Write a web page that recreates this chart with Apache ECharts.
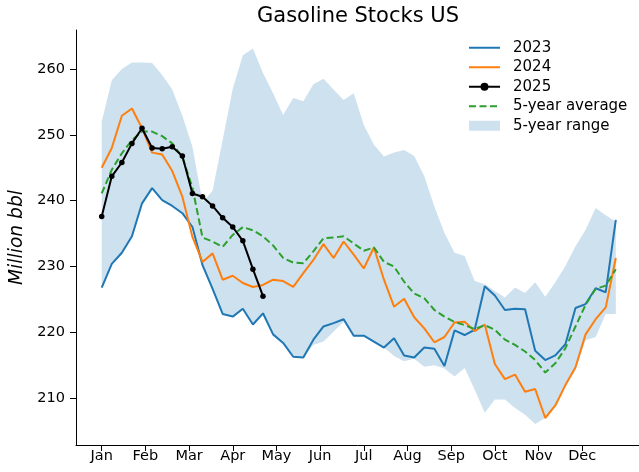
<!DOCTYPE html>
<html><head><meta charset="utf-8">
<script src="https://cdn.jsdelivr.net/npm/echarts@6/dist/echarts.min.js"></script>
<style>html,body{margin:0;padding:0;background:#fff}#c{width:639px;height:472px}</style>
</head><body><div id="c"></div>
<script>
const months = ['Jan','Feb','Mar','Apr','May','Jun','Jul','Aug','Sep','Oct','Nov','Dec'];
const yTicks = [210, 220, 230, 240, 250, 260];

const s2023 = [226.8,230.4,232.1,234.6,239.6,241.9,240.1,239.2,238.1,236.0,
  230.2,226.6,222.8,222.4,223.6,221.2,222.9,219.7,218.4,216.3,
  216.2,218.9,220.9,221.4,222.0,219.5,219.5,218.6,217.7,219.1,
  216.5,216.2,217.7,217.5,214.9,220.3,219.6,220.4,227.0,225.6,
  223.4,223.6,223.5,217.2,215.8,216.5,218.2,223.7,224.3,226.7,
  226.1,237.1];
const s2024 = [245.0,248.0,252.9,254.0,251.0,247.3,247.0,244.5,240.6,234.5,
  230.7,232.0,228.0,228.6,227.5,226.9,227.2,228.0,227.8,226.9,
  229.0,231.0,233.4,231.3,233.8,231.8,229.7,232.9,228.0,223.9,
  225.1,222.3,220.6,218.5,219.3,221.5,221.6,220.2,221.2,215.2,
  212.9,213.6,211.0,211.4,207.0,208.9,212.0,214.7,219.7,222.0,
  223.8,231.3];
const s2025 = [237.6,243.7,245.8,248.7,251.0,248.0,247.9,248.2,246.8,241.1,
  240.6,239.2,237.4,236.0,233.9,229.6,225.5];
const avg5 = [241.1,244.7,247.2,249.2,250.5,250.5,249.8,248.7,246.6,242.0,
  234.4,233.8,233.0,234.8,236.0,235.5,234.6,233.2,231.3,230.6,
  230.5,232.3,234.3,234.4,234.6,233.5,232.4,232.9,230.7,230.0,
  227.7,225.9,225.2,223.4,222.4,221.6,221.1,220.5,221.1,220.4,
  218.9,218.1,217.1,215.8,213.9,215.3,217.6,220.9,224.2,226.6,
  227.1,229.6];
const rangeHi = [252.0,258.3,260.0,261.0,261.0,260.9,259.1,256.9,252.9,248.2,
  239.8,241.5,249.2,257.0,262.1,263.1,259.4,256.3,253.0,255.6,
  255.1,257.7,258.5,256.9,255.3,256.3,251.5,248.5,246.7,247.3,
  247.7,246.8,243.7,239.1,235.1,232.1,231.6,227.8,227.3,226.3,
  225.3,226.8,226.0,227.6,225.4,227.6,230.1,233.1,235.6,238.9,
  237.8,236.8];
const rangeLo = [226.8,230.4,232.1,234.6,239.6,241.9,240.1,239.2,238.1,236.0,
  230.2,226.6,222.8,222.4,223.6,221.2,222.9,219.7,218.4,216.3,
  216.2,218.1,218.6,220.1,221.6,219.4,219.4,218.6,217.7,216.4,
  215.6,216.0,214.8,215.0,214.5,213.3,214.6,211.3,207.8,209.8,
  209.8,208.5,207.5,206.1,207.0,208.8,211.8,214.3,218.8,219.3,
  222.8,222.8];

const WEEKS_PER_MONTH = 52 / 12;
const monthPos = months.map((m, k) => k * WEEKS_PER_MONTH);
const FONT = 'DejaVu Sans';
const bandColor = 'rgba(31,119,180,0.22)';
const toPts = arr => arr.map((v, i) => [i, v]);
const bandData = rangeHi.map((v, i) => [i, rangeLo[i], v]);

function renderBand(params, api) {
  if (params.dataIndex !== 0) return null;
  const pts = [];
  for (let i = 0; i < rangeHi.length; i++) pts.push(api.coord([i, rangeHi[i]]));
  for (let i = rangeLo.length - 1; i >= 0; i--) pts.push(api.coord([i, rangeLo[i]]));
  return {
    type: 'polygon',
    shape: {points: pts},
    style: {fill: bandColor, stroke: 'none'},
    clipPath: {type: 'rect', shape: {
      x: params.coordSys.x, y: params.coordSys.y,
      width: params.coordSys.width, height: params.coordSys.height}}
  };
}

const chart = echarts.init(document.getElementById('c'), null, {renderer: 'canvas'});
chart.setOption({
  animation: false,
  backgroundColor: '#fff',
  title: {
    text: 'Gasoline Stocks US', left: 358, top: 6, textAlign: 'center', padding: 0,
    textStyle: {fontFamily: FONT, fontSize: 21, fontWeight: 'normal', color: '#000'}
  },
  grid: {left: 76, right: 0, top: 30, bottom: 27, outerBoundsMode: 'none'},
  legend: {
    orient: 'vertical', left: 468, top: 38, padding: 0, itemGap: 0,
    itemWidth: 31, itemHeight: 10,
    textStyle: {fontFamily: FONT, fontSize: 15, color: '#000', lineHeight: 19.5, padding: [0, 0, 0, 8]},
    data: [
      {name: '2023', itemStyle: {opacity: 0}},
      {name: '2024', itemStyle: {opacity: 0}},
      {name: '2025'},
      {name: '5-year average', itemStyle: {opacity: 0}},
      {name: '5-year range', icon: 'rect', itemStyle: {color: bandColor, borderWidth: 0}}
    ]
  },
  xAxis: {
    type: 'value', min: -2.55, max: 53.3,
    splitLine: {show: false},
    axisLine: {show: true, onZero: false, lineStyle: {color: '#000', width: 1}},
    axisTick: {show: true, length: 6, customValues: monthPos, lineStyle: {color: '#000', width: 1}},
    axisLabel: {
      customValues: monthPos, margin: 4,
      formatter: v => months[Math.round(v / WEEKS_PER_MONTH)],
      fontFamily: FONT, fontSize: 14.5, color: '#000'
    }
  },
  yAxis: {
    type: 'value', min: 202.9, max: 265.92,
    name: 'Million bbl', nameLocation: 'middle', nameGap: 44,
    nameTextStyle: {fontFamily: FONT, fontSize: 18.7, fontStyle: 'italic', color: '#000'},
    splitLine: {show: false},
    axisLine: {show: true, onZero: false, lineStyle: {color: '#000', width: 1}},
    axisTick: {show: true, length: 6, customValues: yTicks, lineStyle: {color: '#000', width: 1}},
    axisLabel: {customValues: yTicks, margin: 11, fontFamily: FONT, fontSize: 14.5, color: '#000'}
  },
  series: [
    {name: '5-year range', type: 'custom', renderItem: renderBand, data: bandData,
      encode: {x: 0, y: [1, 2]}, itemStyle: {color: bandColor}, silent: true, z: 1},
    {name: '2023', type: 'line', data: toPts(s2023), symbol: 'none',
      lineStyle: {color: '#1f77b4', width: 2}, itemStyle: {color: '#1f77b4'}, z: 2},
    {name: '2024', type: 'line', data: toPts(s2024), symbol: 'none',
      lineStyle: {color: '#ff7f0e', width: 2}, itemStyle: {color: '#ff7f0e'}, z: 2},
    {name: '2025', type: 'line', data: toPts(s2025), symbol: 'circle', symbolSize: 5.5,
      lineStyle: {color: '#000', width: 2}, itemStyle: {color: '#000'}, z: 4},
    {name: '5-year average', type: 'line', data: toPts(avg5), symbol: 'none',
      lineStyle: {color: '#2ca02c', width: 2, type: [7, 3.5]}, itemStyle: {color: '#2ca02c'}, z: 3}
  ]
});
</script>
</body></html>
